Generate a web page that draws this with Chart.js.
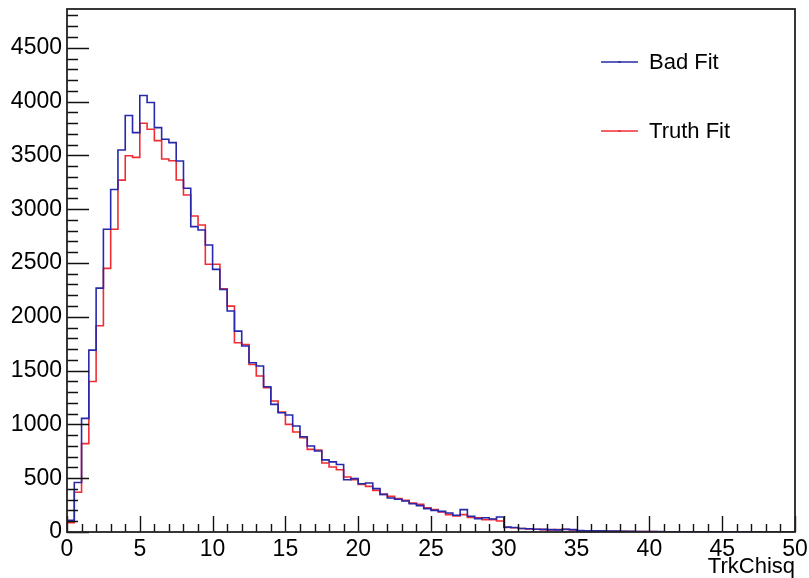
<!DOCTYPE html>
<html><head><meta charset="utf-8">
<style>html,body{margin:0;padding:0;background:#fff;}#wrap{width:809px;height:578px;}</style>
<script src="https://cdn.jsdelivr.net/npm/chart.js@4.4.0/dist/chart.umd.min.js"></script>
</head><body><div id="wrap"><canvas id="c" width="809" height="578"></canvas></div>
<script>
// ---- data ----
const binLow = 0;
const binWidth = 0.5;
const xTicks = [0, 5, 10, 15, 20, 25, 30, 35, 40, 45, 50];
const yTicks = [0, 500, 1000, 1500, 2000, 2500, 3000, 3500, 4000, 4500];
const xMax = 50;
const yMax = 4860;
const xTitle = 'TrkChisq';
const seriesNames = ['Bad Fit', 'Truth Fit'];
const badFit = [
  108, 460, 1056, 1690, 2266, 2814, 3183, 3550, 3870, 3711,
  4056, 3991, 3758, 3649, 3618, 3447, 3194, 2838, 2807, 2667,
  2440, 2254, 2053, 1867, 1728, 1573, 1542, 1350, 1186, 1108,
  1087, 985, 885, 799, 752, 670, 652, 627, 486, 496,
  449, 455, 403, 350, 316, 304, 288, 263, 245, 217,
  201, 192, 177, 155, 208, 146, 124, 133, 121, 139,
  45, 42, 33, 30, 26, 24, 22, 20, 24, 22,
  14, 12, 10, 10, 8, 8, 7, 6, 5, 5,
  4, 4, 3, 3, 3, 2, 2, 2, 2, 1,
  1, 1, 1, 1, 1, 0, 1, 0, 0, 0
];
const truthFit = [
  87, 370, 821, 1398, 1916, 2450, 2814, 3270, 3497, 3481,
  3798, 3742, 3637, 3466, 3450, 3271, 3132, 2937, 2853, 2488,
  2488, 2260, 2099, 1759, 1743, 1557, 1449, 1341, 1217, 1114,
  1000, 929, 876, 768, 762, 641, 604, 579, 511, 486,
  443, 424, 387, 350, 331, 310, 294, 270, 257, 226,
  208, 186, 161, 149, 161, 136, 133, 115, 115, 102,
  42, 40, 32, 29, 25, 22, 20, 22, 25, 18,
  12, 11, 9, 9, 7, 7, 6, 5, 5, 4,
  4, 3, 3, 3, 2, 2, 2, 1, 1, 1,
  1, 1, 1, 0, 1, 0, 0, 0, 0, 0
];
const xMinorStep = 1;
const yMinorStep = 100;
const colors = ['rgb(40,40,170)', 'rgb(240,45,50)'];

function toSteps(vals) {
  const pts = vals.map((v, i) => ({ x: binLow + i * binWidth, y: v }));
  pts.push({ x: binLow + vals.length * binWidth, y: vals[vals.length - 1] });
  return pts;
}

const FONT = '"Liberation Sans", Arial, Helvetica, sans-serif';

const frameTicks = {
  id: 'frameTicks',
  afterDatasetsDraw(chart) {
    const { ctx, chartArea: a, scales: { x, y } } = chart;
    ctx.save();
    ctx.strokeStyle = '#111';
    ctx.lineWidth = 1.4;
    ctx.beginPath();
    for (let v = 0; v <= xMax + 1e-9; v += xMinorStep) {
      const px = Math.round(x.getPixelForValue(v)) + 0.5;
      const len = xTicks.includes(v) ? 16 : 8;
      ctx.moveTo(px, a.bottom);
      ctx.lineTo(px, a.bottom - len);
    }
    for (let v = 0; v <= yMax; v += yMinorStep) {
      const py = Math.round(y.getPixelForValue(v)) + 0.5;
      const len = yTicks.includes(v) ? 22 : 11;
      ctx.moveTo(a.left, py);
      ctx.lineTo(a.left + len, py);
    }
    ctx.stroke();
    ctx.strokeStyle = '#222';
    ctx.lineWidth = 1.8;
    ctx.strokeRect(a.left, a.top, a.right - a.left, a.bottom - a.top);
    ctx.restore();
  },
  afterDraw(chart) {
    const { ctx, chartArea: a } = chart;
    const w = a.right - a.left, h = a.bottom - a.top;
    const x0 = a.left + 0.7335 * w, x1 = a.left + 0.7843 * w, tx = a.left + 0.7995 * w;
    const ys = [a.top + 0.1013 * h, a.top + 0.2333 * h];
    ctx.save();
    ctx.font = '22px ' + FONT;
    ctx.textBaseline = 'middle';
    seriesNames.forEach((name, i) => {
      ctx.strokeStyle = colors[i];
      ctx.lineWidth = 1.6;
      ctx.beginPath();
      ctx.moveTo(x0, ys[i]);
      ctx.lineTo(x1, ys[i]);
      ctx.stroke();
      ctx.fillStyle = colors[i];
      ctx.fillRect((x0 + x1) / 2 - 1, ys[i] - 1, 2, 2);
      ctx.fillStyle = '#000';
      ctx.fillText(name, tx, ys[i] + 1);
    });
    ctx.restore();
  }
};

new Chart(document.getElementById('c'), {
  type: 'line',
  data: {
    datasets: [
      { label: seriesNames[0], data: toSteps(badFit), borderColor: colors[0], borderWidth: 1.6, stepped: 'before', pointRadius: 0, fill: false },
      { label: seriesNames[1], data: toSteps(truthFit), borderColor: colors[1], borderWidth: 1.6, stepped: 'before', pointRadius: 0, fill: false }
    ]
  },
  options: {
    responsive: false,
    animation: false,
    devicePixelRatio: 1,
    layout: { padding: { left: 0, right: 14, top: 9, bottom: 0 } },
    plugins: { legend: { display: false }, tooltip: { enabled: false } },
    scales: {
      x: {
        type: 'linear', min: 0, max: xMax,
        grid: { display: false, drawTicks: false },
        border: { display: false },
        afterBuildTicks: s => { s.ticks = xTicks.map(v => ({ value: v })); },
        afterFit: s => { s.height = 46; s.paddingLeft = 0; s.paddingRight = 0; },
        ticks: { color: '#000', font: { family: FONT, size: 23 }, padding: 4, maxRotation: 0, autoSkip: false, callback: v => String(v) },
        title: { display: true, text: xTitle, align: 'end', color: '#000', font: { family: FONT, size: 22, lineHeight: 1.0 }, padding: { top: 0, bottom: 0 } }
      },
      y: {
        type: 'linear', min: 0, max: yMax,
        grid: { display: false, drawTicks: false },
        border: { display: false },
        afterBuildTicks: s => { s.ticks = yTicks.map(v => ({ value: v })); },
        afterFit: s => { s.width = 67; s.paddingTop = 0; s.paddingBottom = 0; },
        ticks: { color: '#000', font: { family: FONT, size: 23 }, padding: 5, autoSkip: false, callback: v => String(v) }
      }
    }
  },
  plugins: [frameTicks]
});
</script></body></html>
